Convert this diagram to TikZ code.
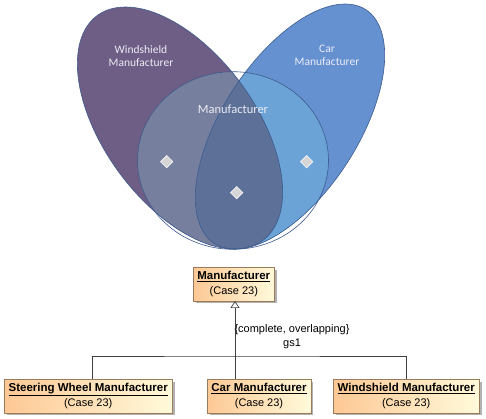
\documentclass[tikz,border=0pt]{standalone}
\usepackage{fontspec}
\setmainfont{Liberation Sans}
\newfontfamily\vennfont{Carlito}
\usetikzlibrary{positioning,shapes.geometric,arrows.meta,shadows}

\definecolor{windshieldset}{HTML}{6E5E86}
\definecolor{carset}{HTML}{6591D1}
\definecolor{mfrwind}{HTML}{777F9E}
\definecolor{mfrcar}{HTML}{6BA3D6}
\definecolor{mfrboth}{HTML}{5D7098}
\definecolor{setline}{HTML}{3D5B8E}
\definecolor{vennlabel}{HTML}{ECECF4}
\definecolor{boxleft}{HTML}{FDC895}
\definecolor{boxright}{HTML}{FFFADA}
\definecolor{boxborder}{HTML}{9C7B5A}
\definecolor{genline}{HTML}{404040}

\newcommand{\windshieldpath}{[shift={(180,128)}, xslant=-0.45] (0,0) ellipse [x radius=87pt, y radius=121pt]}
\newcommand{\carpath}{[shift={(290,126.5)}, xslant=0.45] (0,0) ellipse [x radius=77pt, y radius=122.5pt]}
\newcommand{\mfrpath}{(233,160.5) ellipse [x radius=95.5pt, y radius=88.8pt]}
\newcommand{\classname}[1]{{\fontsize{11.5}{15}\selectfont\underline{\textbf{#1}}}}

\begin{document}
\begin{tikzpicture}[x=1pt, y=-1pt, every node/.style={inner sep=0pt},
    classbox/.style={draw=boxborder, left color=boxleft, right color=boxright, minimum height=33.5pt, align=center, font=\fontsize{11}{15}\selectfont, drop shadow={shadow xshift=2.5pt, shadow yshift=-2.5pt, fill=black!30, opacity=1}},
    setlabel/.style={align=center, text=vennlabel, font=\vennfont\fontsize{11.5}{13}\selectfont},
    marker/.style={diamond, fill=black!16, draw=white, line width=0.5pt, minimum size=12.6pt}]
    \useasboundingbox (0,0) rectangle (486,419);

    % Sets
    \fill[windshieldset] \windshieldpath;
    \fill[carset] \carpath;
    \begin{scope}
        \clip \windshieldpath;
        \fill[mfrwind] \mfrpath;
    \end{scope}
    \begin{scope}
        \clip \carpath;
        \fill[mfrcar] \mfrpath;
    \end{scope}
    \begin{scope}
        \clip \windshieldpath;
        \clip \carpath;
        \fill[mfrboth] \mfrpath;
    \end{scope}
    \draw[setline, line width=0.6pt] \windshieldpath;
    \draw[setline, line width=0.6pt] \carpath;
    \draw[setline, line width=0.6pt] \mfrpath;

    % Set labels
    \node (windlabel) [setlabel] at (141,56.5) {Windshield\\Manufacturer};
    \node (carlabel) [setlabel] at (327,55.5) {Car\\Manufacturer};
    \node (mfrlabel) [setlabel, font=\vennfont\fontsize{12.5}{14}\selectfont] at (233,109) {Manufacturer};

    % Instances
    \node (dwind) [marker] at (166.7,161.7) {};
    \node (dcar) [marker] at (306.7,161.7) {};
    \node (dboth) [marker] at (236.7,192.7) {};

    % Classes
    \node (mfr) [classbox, minimum width=81pt] at (233.8,284) {\classname{Manufacturer}\\(Case 23)};
    \node (steer) [classbox, minimum width=168.3pt] at (88.2,396) {\classname{Steering Wheel Manufacturer}\\(Case 23)};
    \node (car) [classbox, minimum width=103.4pt] at (259,396) {\classname{Car Manufacturer}\\(Case 23)};
    \node (wind) [classbox, minimum width=145.7pt] at (406.2,396) {\classname{Windshield Manufacturer}\\(Case 23)};

    % Generalization set
    \coordinate (gs) at (235,356);
    \draw[genline, line width=0.7pt, -{Triangle[open, length=7pt, width=9pt]}] (car.north -| gs) -- (mfr.south -| gs);
    \draw[genline, line width=0.7pt] ([xshift=4pt]steer.north) |- (gs) -| (wind.north);
    \node (gsconstraint) [font=\fontsize{11}{13}\selectfont] at (292,330) {\{complete, overlapping\}};
    \node (gsname) [font=\fontsize{11}{13}\selectfont] at (292,344) {gs1};

\end{tikzpicture}
\end{document}
